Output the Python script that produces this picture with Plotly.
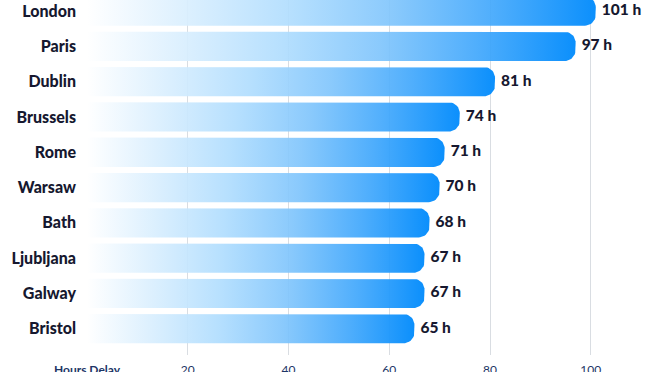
import numpy as np
import plotly.graph_objects as go

cities = ["London", "Paris", "Dublin", "Brussels", "Rome", "Warsaw", "Bath",
          "Ljubljana", "Galway", "Bristol"]
hours = [101, 97, 81, 74, 71, 70, 68, 67, 67, 65]
value_labels = [f"{h} h" for h in hours]
tick_vals = [0, 20, 40, 60, 80, 100]
tick_text = ["<b>Hours Delay</b>", "20", "40", "60", "80", "100"]

W, H = 661, 372
ML, MR, MT, MB = 87, 5, 0, 17
plot_w = W - ML - MR
plot_h = H - MT - MB
x_range = [0, plot_w / 5.0375]
y_range = [9.745, -0.313]
px_x = plot_w / (x_range[1] - x_range[0])
px_y = plot_h / abs(y_range[0] - y_range[1])

half = 0.415           # half bar thickness (category units)
corner_px = 11
rx = corner_px / px_x
ry = corner_px / px_y
label_gap = 6 / px_x

scale = [[0.0, "rgba(255,255,255,0.92)"],
         [0.2, "rgba(216,238,254,0.92)"],
         [0.4, "rgba(176,221,254,0.92)"],
         [0.6, "rgba(128,197,252,0.92)"],
         [0.8, "rgba(66,168,252,0.93)"],
         [1.0, "rgba(4,140,252,0.97)"]]

fig = go.Figure()
t = np.linspace(0, np.pi / 2, 12)
for i, v in enumerate(hours):
    top, bot = i - half, i + half
    cx = v - rx
    xs = [0, cx]
    ys = [top, top]
    xs += list(cx + rx * np.sin(t)); ys += list(top + ry - ry * np.cos(t))
    xs += list(cx + rx * np.cos(t)); ys += list(bot - ry + ry * np.sin(t))
    xs += [0, 0]; ys += [bot, top]
    fig.add_trace(go.Scatter(
        x=xs, y=ys, mode="lines", fill="toself",
        line=dict(width=0, color="rgba(0,0,0,0)"),
        fillgradient=dict(type="horizontal", colorscale=scale),
        hoverinfo="skip", showlegend=False))

fig.add_trace(go.Scatter(
    x=[h + label_gap for h in hours], y=list(range(len(hours))), mode="text",
    text=value_labels, textposition="middle right",
    textfont=dict(family="Lato", size=15.5, color="#16182f", weight=900),
    hoverinfo="skip", showlegend=False))

fig.update_layout(
    width=W, height=H,
    margin=dict(l=ML, r=MR, t=MT, b=MB, pad=0, autoexpand=False),
    paper_bgcolor="white", plot_bgcolor="white",
    font=dict(family="Lato", color="#16182f"),
    xaxis=dict(range=x_range, tickvals=tick_vals, ticktext=tick_text,
               showgrid=True, gridcolor="#d9dde2", gridwidth=1,
               zeroline=False, showline=False, ticks="", automargin=False,
               ticklabelstandoff=6,
               tickfont=dict(family="Lato", size=12, color="#1d3566")),
    yaxis=dict(range=y_range, tickvals=list(range(len(cities))),
               ticktext=cities, automargin=False,
               showgrid=False, zeroline=False, showline=False, ticks="",
               ticklabelstandoff=10,
               tickfont=dict(family="Lato", size=16, color="#16182f",
                             weight=900)),
)

fig.write_html("out.html",
               config={"displayModeBar": False, "staticPlot": True},
               post_script="document.body.style.margin='0';"
                           "document.body.style.overflow='hidden';")
